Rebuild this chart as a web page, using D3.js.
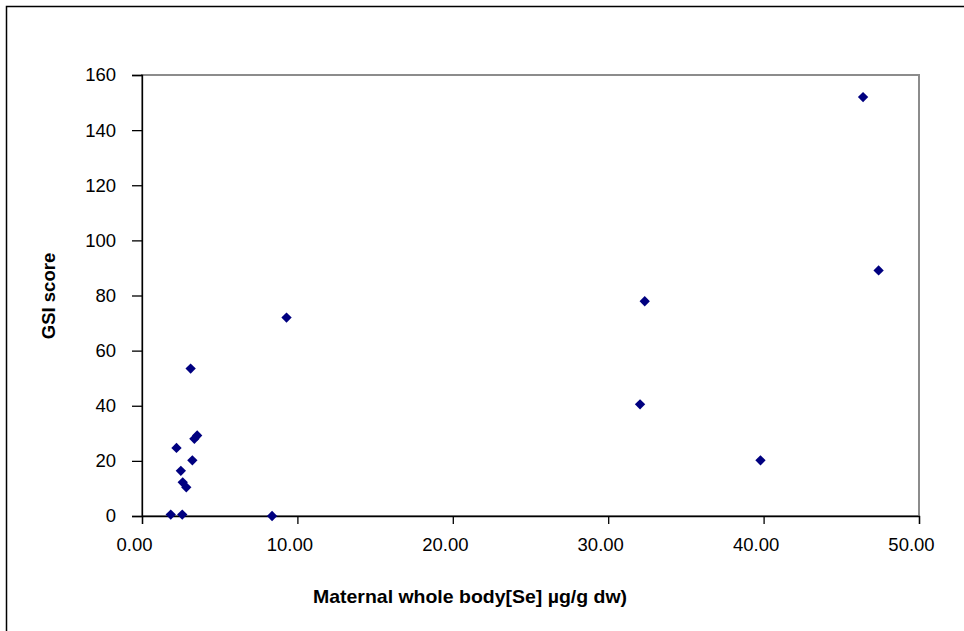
<!DOCTYPE html>
<html>
<head>
<meta charset="utf-8">
<script src="https://cdn.jsdelivr.net/npm/d3@7"></script>
<style>
  html, body { margin: 0; padding: 0; background: #fff; }
  svg { display: block; }
  text { font-family: "Liberation Sans", Arial, sans-serif; }
</style>
</head>
<body>
<svg id="chart" width="964" height="631"></svg>
<script>
// Data
const seleniumX = [1.85, 2.59, 8.37, 2.85, 2.62, 2.50, 3.24, 2.22, 3.37, 3.55, 3.13, 9.3, 32.05, 32.35, 39.8, 46.4, 47.4];
const gsiScore  = [0.5,  0.5,  0,    10.4, 12.2, 16.4, 20.2, 24.7, 28.0, 29.2, 53.5, 72,  40.5,  77.9,  20.2, 152,  89.1];
const xTicks = [0, 10, 20, 30, 40, 50];
const yTicks = [0, 20, 40, 60, 80, 100, 120, 140, 160];
const xTitle = "Maternal whole body[Se] µg/g dw)";
const yTitle = "GSI score";

const points = seleniumX.map((x, i) => ({ x: x, y: gsiScore[i] }));

const svg = d3.select("#chart");
const plot = { left: 142, right: 919, top: 75, bottom: 516 };

const x = d3.scaleLinear().domain([0, 50]).range([plot.left, plot.right]);
const y = d3.scaleLinear().domain([0, 160]).range([plot.bottom, plot.top]);

// outer chart frame
svg.append("rect")
  .attr("x", 6.5).attr("y", 6.5)
  .attr("width", 1000).attr("height", 1000)
  .attr("fill", "none").attr("stroke", "#000").attr("stroke-width", 1.5);

// plot area border (gray)
svg.append("rect")
  .attr("x", plot.left).attr("y", plot.top)
  .attr("width", plot.right - plot.left).attr("height", plot.bottom - plot.top)
  .attr("fill", "none").attr("stroke", "#8c8c8c").attr("stroke-width", 2);

// y axis
const yAxis = svg.append("g")
  .attr("transform", `translate(${plot.left},0)`)
  .call(d3.axisLeft(y).tickValues(yTicks).tickFormat(d3.format("d")).tickSizeOuter(0).tickSize(10).tickPadding(16));
yAxis.select(".domain").attr("stroke", "#000").attr("stroke-width", 1.3);
yAxis.selectAll(".tick line").attr("stroke", "#000").attr("stroke-width", 1.3);
yAxis.selectAll(".tick text").attr("font-size", 18.5).attr("fill", "#000")
  .attr("font-family", "'Liberation Sans', Arial, sans-serif");

// x axis
const xAxis = svg.append("g")
  .attr("transform", `translate(0,${plot.bottom})`)
  .call(d3.axisBottom(x).tickValues(xTicks).tickFormat(d3.format(".2f")).tickSizeOuter(0).tickSize(8).tickPadding(14));
xAxis.select(".domain").attr("stroke", "#000").attr("stroke-width", 1.3);
xAxis.selectAll(".tick line").attr("stroke", "#000").attr("stroke-width", 1.3);
xAxis.selectAll(".tick text").attr("font-size", 18.5).attr("fill", "#000")
  .attr("dx", -8)
  .attr("font-family", "'Liberation Sans', Arial, sans-serif");

// markers (diamonds)
const diamond = d3.symbol().type(d3.symbolDiamond2).size(68);
svg.append("g").selectAll("path")
  .data(points).join("path")
  .attr("d", diamond)
  .attr("transform", d => `translate(${x(d.x)},${y(d.y)})`)
  .attr("fill", "#000080");

// axis titles
svg.append("text")
  .attr("x", 470).attr("y", 603)
  .attr("text-anchor", "middle")
  .attr("font-size", 19).attr("font-weight", "bold")
  .attr("textLength", 314).attr("lengthAdjust", "spacingAndGlyphs")
  .text(xTitle);

svg.append("text")
  .attr("transform", "translate(55,296) rotate(-90)")
  .attr("text-anchor", "middle")
  .attr("font-size", 18.5).attr("font-weight", "bold")
  .text(yTitle);
</script>
</body>
</html>
